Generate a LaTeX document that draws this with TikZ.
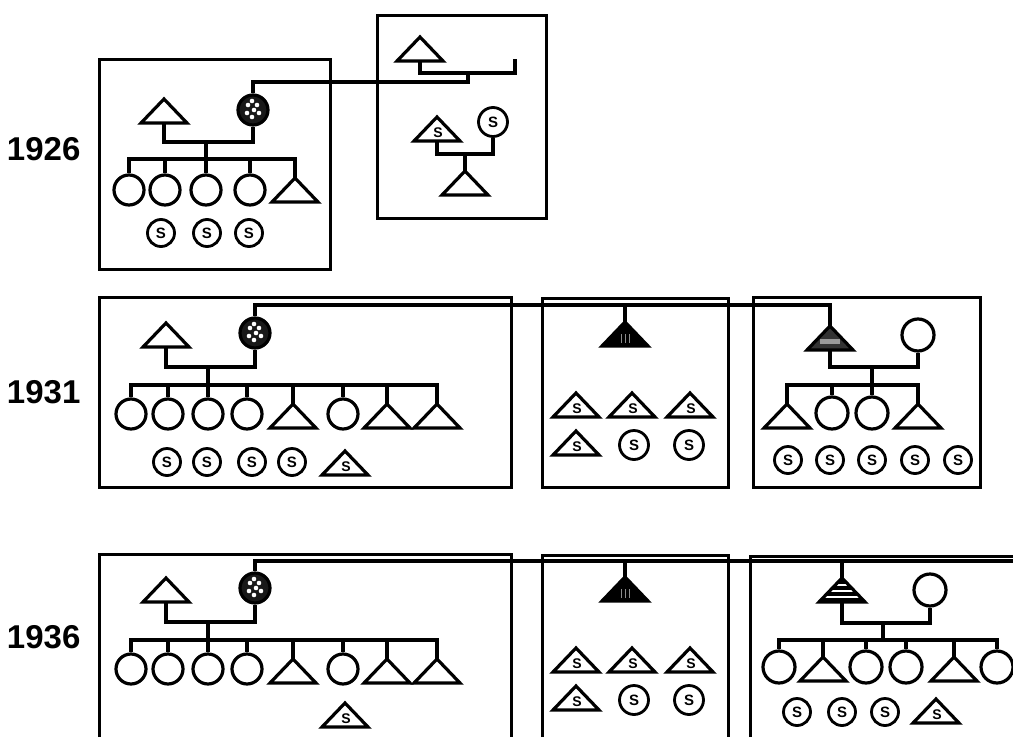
\documentclass[tikz,border=0pt]{standalone}
\usepackage{fontspec}
\setmainfont{Liberation Sans}
\tikzset{
  box/.style={draw, line width=3pt},
  trib/.style={inner sep=0pt, outer sep=0pt, minimum width=46pt, minimum height=24pt},
  tri/.style={draw, line width=3.2pt, fill=white},
  circ/.style={circle, draw, line width=3.2pt, inner sep=0pt, minimum size=30pt, fill=white},
  scirc/.style={circ, line width=2.8pt, minimum size=27pt, font=\fontsize{15}{15}\selectfont\bfseries},
  stext/.style={inner sep=0pt, font=\fontsize{14}{14}\selectfont\bfseries},
  year/.style={anchor=east, inner sep=0pt, font=\fontsize{33}{33}\selectfont\bfseries},
  stip/.style={circ, fill=black!90, path picture={
      \foreach \a/\b in {-5/-5,4/-5,-6/3,1/0,6/3,-1/7,-1/-9}
        \fill[white] ([shift={(\a,\b)}]path picture bounding box.center) circle (2.3pt);}},
  darktri/.style={fill=black, path picture={
      \foreach \a in {-4,0,4}
        \draw[black!45, line width=1pt] ([shift={(\a,-3)}]path picture bounding box.south) -- ++(0,-9);}},
  hatchtri/.style={fill=black!80, path picture={
      \fill[black!40] ([shift={(-10,-6)}]path picture bounding box.south) rectangle ++(20,-5);}},
  stripetri/.style={fill=black, path picture={
      \foreach \d in {5,11,17}
        \draw[white, line width=2.2pt] ([shift={(-30,-\d)}]path picture bounding box.south) -- ++(60,0);}},
}
\newcommand\Tri[4][]{\node[trib, anchor=north] (#2) at (#3,#4) {};
  \draw[tri, #1] (#2.south west) -- (#2.north) -- (#2.south east) -- cycle;}
\newcommand\STri[3]{\Tri{#1}{#2}{#3}\path (#1.south) ++(1,-8) node[stext] (#1-s) {S};}
\begin{document}
\begin{tikzpicture}[x=1pt, y=-1pt, line width=3.2pt]
\path[use as bounding box, fill=white] (0,0) rectangle (1013,737);

% ---------------- 1926 ----------------
\node[year] (y26) at (82,149) {1926};
\draw[box] (99,59) rectangle (330,269);
\draw[box] (377,15) rectangle (546,218);

\Tri{f26}{164}{99}
\node[stip] (w26) at (253,110) {};
\coordinate (m26) at (206,142);
\coordinate (s26) at (206,159);
\draw (f26.south) |- (m26) -| (w26.south);
\draw (m26) -- (s26);
\node[circ] (c26a) at (129,190) {};
\node[circ] (c26b) at (165,190) {};
\node[circ] (c26c) at (206,190) {};
\node[circ] (c26d) at (250,190) {};
\Tri{c26e}{295}{178}
\draw (c26a.north) |- (s26) -| (c26e.north);
\foreach \n in {c26b,c26c,c26d} \draw (\n.north) -- (\n.north |- s26);
\node[scirc] (x26a) at (161,233) {S};
\node[scirc] (x26b) at (207,233) {S};
\node[scirc] (x26c) at (249,233) {S};

\Tri{g26}{420}{37}
\coordinate (gm26) at (515,59);
\coordinate (m26b) at (468,73);
\draw (g26.south) |- (m26b) -| (gm26);
\coordinate (j26) at (468,82);
\draw (w26.north) |- (j26) -- (m26b);
\STri{h26}{437}{117}
\node[scirc, minimum size=29pt] (k26) at (493,122) {S};
\coordinate (m26c) at (465,154);
\draw (h26.south) |- (m26c) -| (k26.south);
\Tri{l26}{465}{171}
\draw (m26c) -- (l26.north);

% ---------------- 1931 ----------------
\node[year] (y31) at (82,392) {1931};
\draw[box] (99,297) rectangle (511,487);
\draw[box] (542,298) rectangle (728,487);
\draw[box] (753,297) rectangle (980,487);

\Tri{f31}{166}{323}
\node[stip] (w31) at (255,333) {};
\coordinate (m31) at (208,367);
\coordinate (s31) at (208,385);
\draw (f31.south) |- (m31) -| (w31.south);
\draw (m31) -- (s31);
\node[circ] (c31a) at (131,414) {};
\node[circ] (c31b) at (168,414) {};
\node[circ] (c31c) at (208,414) {};
\node[circ] (c31d) at (247,414) {};
\Tri{c31e}{293}{404}
\node[circ] (c31f) at (343,414) {};
\Tri{c31g}{387}{404}
\Tri{c31h}{437}{404}
\draw (c31a.north) |- (s31) -| (c31h.north);
\foreach \n in {c31b,c31c,c31d,c31e,c31f,c31g} \draw (\n.north) -- (\n.north |- s31);
\node[scirc] (x31a) at (167,462) {S};
\node[scirc] (x31b) at (207,462) {S};
\node[scirc] (x31c) at (252,462) {S};
\node[scirc] (x31d) at (292,462) {S};
\STri{x31e}{345}{451}

\Tri[darktri]{d31}{625}{322}
\STri{d31a}{576}{393}
\STri{d31b}{632}{393}
\STri{d31c}{690}{393}
\STri{d31d}{576}{431}
\node[scirc, minimum size=29pt] (d31e) at (634,445) {S};
\node[scirc, minimum size=29pt] (d31f) at (689,445) {S};

\Tri[hatchtri]{e31}{830}{326}
\node[circ, minimum size=32pt] (w31e) at (918,335) {};
\coordinate (k31) at (830,305);
\draw (w31.north) |- (k31) -- (e31.north);
\draw (d31.north |- k31) -- (d31.north);
\coordinate (m31e) at (872,367);
\coordinate (s31e) at (872,385);
\draw (e31.south) |- (m31e) -| (w31e.south);
\draw (m31e) -- (s31e);
\Tri{e31a}{787}{404}
\node[circ, minimum size=32pt] (e31b) at (832,413) {};
\node[circ, minimum size=32pt] (e31c) at (872,413) {};
\Tri{e31d}{918}{404}
\draw (e31a.north) |- (s31e) -| (e31d.north);
\foreach \n in {e31b,e31c} \draw (\n.north) -- (\n.north |- s31e);
\node[scirc] (x31f) at (788,460) {S};
\node[scirc] (x31g) at (830,460) {S};
\node[scirc] (x31h) at (872,460) {S};
\node[scirc] (x31i) at (915,460) {S};
\node[scirc] (x31j) at (958,460) {S};

% ---------------- 1936 ----------------
\node[year] (y36) at (82,637) {1936};
\draw[box] (99,737) |- (511,554) -- (511,737);
\draw[box] (542,737) |- (728,555) -- (728,737);
\draw[box] (750,737) |- (1013,556);

\Tri{f36}{166}{578}
\node[stip] (w36) at (255,588) {};
\coordinate (m36) at (208,622);
\coordinate (s36) at (208,640);
\draw (f36.south) |- (m36) -| (w36.south);
\draw (m36) -- (s36);
\node[circ] (c36a) at (131,669) {};
\node[circ] (c36b) at (168,669) {};
\node[circ] (c36c) at (208,669) {};
\node[circ] (c36d) at (247,669) {};
\Tri{c36e}{293}{659}
\node[circ] (c36f) at (343,669) {};
\Tri{c36g}{387}{659}
\Tri{c36h}{437}{659}
\draw (c36a.north) |- (s36) -| (c36h.north);
\foreach \n in {c36b,c36c,c36d,c36e,c36f,c36g} \draw (\n.north) -- (\n.north |- s36);
\STri{x36a}{345}{703}

\Tri[darktri]{g36}{625}{577}
\STri{g36a}{576}{648}
\STri{g36b}{632}{648}
\STri{g36c}{690}{648}
\STri{g36d}{576}{686}
\node[scirc, minimum size=29pt] (g36e) at (634,700) {S};
\node[scirc, minimum size=29pt] (g36f) at (689,700) {S};

\Tri[stripetri]{h36}{842}{578}
\node[circ, minimum size=32pt] (w36h) at (930,590) {};
\coordinate (k36) at (1013,561);
\draw (w36.north) |- (k36);
\draw (g36.north |- k36) -- (g36.north);
\draw (h36.north |- k36) -- (h36.north);
\coordinate (m36h) at (883,623);
\coordinate (s36h) at (883,640);
\draw (h36.south) |- (m36h) -| (w36h.south);
\draw (m36h) -- (s36h);
\node[circ, minimum size=32pt] (h36a) at (779,667) {};
\Tri{h36b}{823}{657}
\node[circ, minimum size=32pt] (h36c) at (866,667) {};
\node[circ, minimum size=32pt] (h36d) at (906,667) {};
\Tri{h36e}{954}{657}
\node[circ, minimum size=32pt] (h36f) at (997,667) {};
\draw (h36a.north) |- (s36h) -| (h36f.north);
\foreach \n in {h36b,h36c,h36d,h36e} \draw (\n.north) -- (\n.north |- s36h);
\node[scirc] (x36b) at (797,712) {S};
\node[scirc] (x36c) at (842,712) {S};
\node[scirc] (x36d) at (885,712) {S};
\STri{x36e}{936}{699}
\end{tikzpicture}
\end{document}
